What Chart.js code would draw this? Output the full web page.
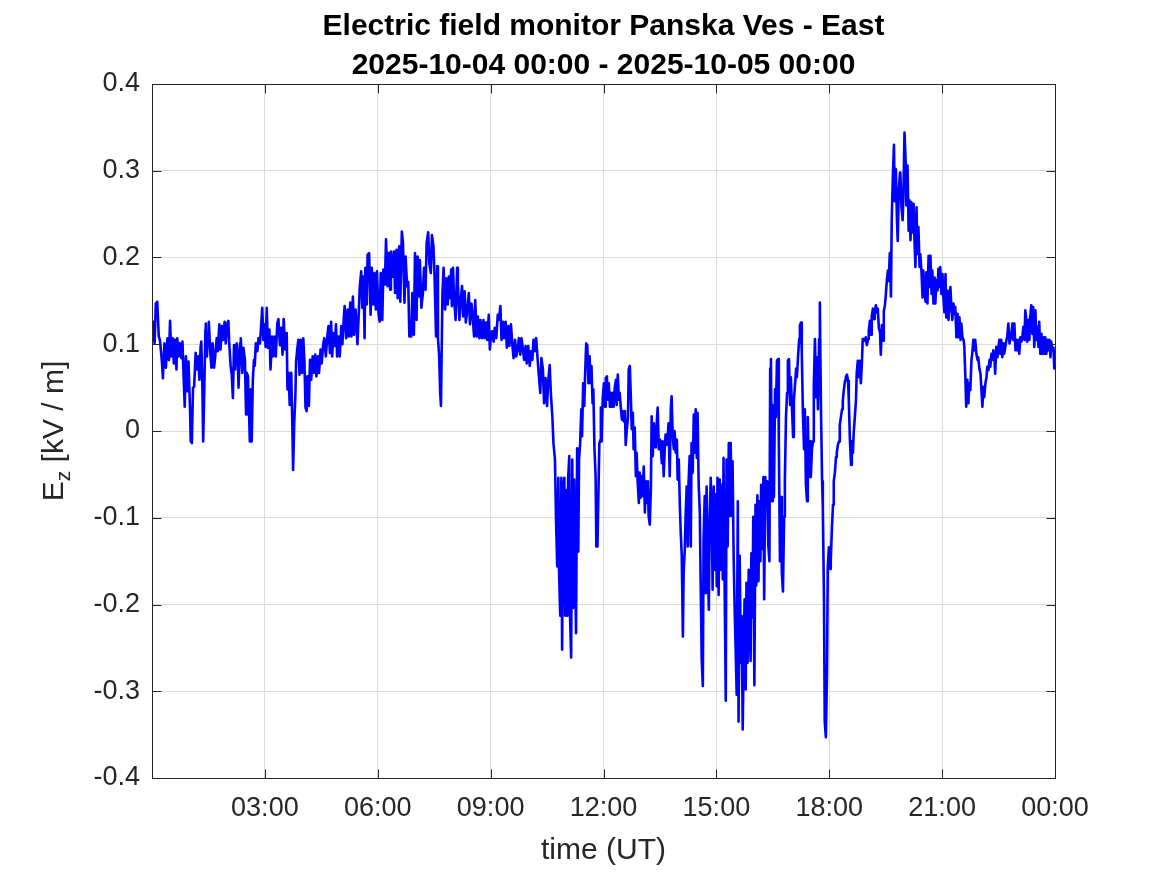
<!DOCTYPE html>
<html>
<head>
<meta charset="utf-8">
<title>Electric field monitor Panska Ves - East</title>
<script src="https://cdn.jsdelivr.net/npm/chart.js@4.4.0/dist/chart.umd.min.js"></script>
<style>
  body { margin: 0; background: #ffffff; }
  #grafico { display: block; }
</style>
</head>
<body>
<canvas id="grafico" width="1167" height="875"></canvas>
<script>
// Datos: hora (UT) y campo Ez (kV/m), por tramos de ~4 h.
const horasA = [0.00,0.01,0.04,0.07,0.10,0.14,0.18,0.21,0.26,0.29,
  0.33,0.37,0.41,0.45,0.48,0.51,0.55,0.58,0.61,0.65,
  0.67,0.71,0.74,0.78,0.81,0.84,0.87,0.90,0.94,0.97,
  1.01,1.03,1.06,1.09,1.12,1.16,1.19,1.23,1.26,1.29,
  1.31,1.34,1.36,1.39,1.42,1.43,1.46,1.49,1.51,1.55,
  1.58,1.61,1.65,1.68,1.72,1.75,1.79,1.82,1.86,1.89,
  1.93,1.96,2.00,2.03,2.05,2.09,2.12,2.15,2.18,2.21,
  2.25,2.28,2.30,2.34,2.36,2.40,2.43,2.47,2.50,2.52,
  2.55,2.58,2.60,2.63,2.65,2.68,2.71,2.73,2.76,2.80,
  2.83,2.87,2.90,2.93,2.96,2.99,3.02,3.05,3.08,3.12,
  3.15,3.19,3.22,3.26,3.29,3.33,3.36,3.40,3.43,3.47,
  3.50,3.54,3.58,3.60,3.63,3.66,3.70,3.73,3.75,3.78,
  3.81,3.83,3.86,3.89,3.92,3.95];
const campoA = [0.120,0.105,0.126,0.101,0.147,0.149,0.109,0.105,0.082,0.061,
  0.101,0.073,0.107,0.082,0.127,0.086,0.107,0.078,0.105,0.071,
  0.107,0.086,0.101,0.084,0.103,0.063,0.028,0.086,0.046,0.080,
  0.026,-0.012,-0.014,0.050,0.051,0.090,0.071,0.086,0.059,0.096,
  0.103,0.048,-0.012,0.048,0.117,0.124,0.086,0.113,0.126,0.090,
  0.073,0.101,0.073,0.086,0.107,0.092,0.123,0.094,0.121,0.105,
  0.126,0.101,0.124,0.127,0.103,0.075,0.065,0.038,0.099,0.071,
  0.101,0.086,0.050,0.101,0.107,0.067,0.096,0.082,0.019,0.067,
  0.063,0.021,-0.012,0.048,-0.012,0.059,0.082,0.075,0.101,0.092,
  0.107,0.101,0.121,0.142,0.105,0.123,0.097,0.142,0.096,0.117,
  0.071,0.109,0.086,0.109,0.086,0.124,0.129,0.099,0.119,0.088,
  0.129,0.094,0.113,0.048,0.067,0.030,0.067,0.007,-0.045,0.009,
  0.040,0.080,0.094,0.105,0.065,0.105];

const horasB = [3.96,3.99,4.02,4.05,4.08,4.11,4.13,4.17,4.20,4.23,
  4.27,4.30,4.34,4.37,4.41,4.44,4.48,4.51,4.55,4.58,
  4.62,4.66,4.69,4.73,4.76,4.79,4.82,4.86,4.89,4.92,
  4.96,4.99,5.03,5.06,5.10,5.12,5.16,5.20,5.23,5.27,
  5.30,5.34,5.37,5.41,5.43,5.46,5.50,5.52,5.56,5.59,
  5.62,5.65,5.67,5.71,5.73,5.77,5.81,5.84,5.88,5.91,
  5.95,5.98,6.02,6.05,6.08,6.12,6.15,6.19,6.22,6.26,
  6.29,6.33,6.35,6.39,6.43,6.46,6.50,6.53,6.57,6.60,
  6.64,6.67,6.71,6.74,6.78,6.81,6.84,6.89,6.92,6.96,
  6.99,7.03,7.06,7.10,7.12,7.16,7.20,7.23,7.27,7.30,
  7.34,7.37,7.41,7.44,7.48,7.51,7.55,7.58,7.60,7.63,
  7.66,7.68,7.72,7.75,7.79,7.82,7.86,7.89,7.93];
const campoB = [0.105,0.067,0.107,0.082,0.027,0.023,0.063,0.029,0.082,0.059,
  0.086,0.067,0.088,0.063,0.086,0.067,0.094,0.078,0.100,0.107,
  0.086,0.109,0.121,0.090,0.126,0.086,0.113,0.098,0.123,0.086,
  0.109,0.086,0.121,0.100,0.132,0.144,0.107,0.140,0.109,0.148,
  0.109,0.155,0.111,0.140,0.128,0.100,0.140,0.165,0.184,0.142,
  0.178,0.107,0.188,0.146,0.203,0.205,0.134,0.188,0.146,0.182,
  0.140,0.184,0.136,0.126,0.182,0.128,0.186,0.169,0.221,0.167,
  0.205,0.163,0.207,0.178,0.207,0.159,0.209,0.153,0.213,0.149,
  0.230,0.217,0.148,0.201,0.167,0.172,0.109,0.109,0.159,0.111,
  0.205,0.128,0.201,0.155,0.197,0.142,0.159,0.188,0.163,0.217,
  0.229,0.194,0.182,0.226,0.213,0.178,0.109,0.190,0.107,0.088,
  0.044,0.029,0.159,0.188,0.140,0.176,0.146,0.178,0.153];

const horasC = [7.95,7.97,8.00,8.03,8.07,8.11,8.13,8.17,8.20,8.24,
  8.27,8.31,8.34,8.38,8.42,8.45,8.49,8.52,8.56,8.59,
  8.63,8.66,8.70,8.73,8.77,8.81,8.84,8.88,8.91,8.95,
  8.98,9.01,9.04,9.08,9.11,9.15,9.19,9.22,9.26,9.29,
  9.33,9.36,9.40,9.43,9.47,9.50,9.54,9.58,9.61,9.65,
  9.68,9.72,9.75,9.79,9.82,9.86,9.89,9.93,9.96,10.00,
  10.04,10.07,10.11,10.14,10.18,10.21,10.25,10.28,10.32,10.35,
  10.39,10.42,10.46,10.50,10.53,10.57,10.60,10.64,10.67,10.71,
  10.74,10.77,10.80,10.82,10.85,10.88,10.90,10.93,10.96,10.98,
  11.01,11.04,11.06,11.09,11.11,11.14,11.17,11.19,11.22,11.25,
  11.27,11.30,11.33,11.35,11.38,11.41,11.43,11.46,11.49,11.51,
  11.54,11.57,11.60,11.63,11.66,11.68,11.71,11.73,11.76,11.79,
  11.81,11.84,11.87,11.89,11.92];
const campoC = [0.186,0.144,0.188,0.151,0.128,0.188,0.171,0.128,0.147,0.167,
  0.132,0.161,0.125,0.140,0.159,0.123,0.147,0.134,0.109,0.151,
  0.109,0.132,0.107,0.128,0.107,0.128,0.107,0.125,0.105,0.134,
  0.094,0.111,0.115,0.103,0.119,0.107,0.134,0.128,0.144,0.105,
  0.126,0.107,0.126,0.096,0.121,0.098,0.123,0.098,0.084,0.105,
  0.086,0.094,0.107,0.088,0.107,0.094,0.082,0.098,0.078,0.098,
  0.075,0.092,0.082,0.105,0.092,0.107,0.082,0.065,0.044,0.084,
  0.071,0.032,0.061,0.029,0.057,0.076,0.044,0.017,-0.014,-0.033,
  -0.106,-0.156,-0.054,-0.164,-0.213,-0.054,-0.252,-0.068,-0.054,-0.213,
  -0.068,-0.213,-0.056,-0.029,-0.213,-0.261,-0.033,-0.204,-0.056,-0.175,
  -0.233,-0.020,-0.139,-0.033,-0.014,0.025,-0.006,0.055,0.029,0.063,
  0.101,0.099,0.055,0.086,0.055,0.075,0.032,0.048,-0.021,-0.052,
  -0.133,-0.133,-0.060,-0.014,-0.010];

const horasD = [11.93,11.95,11.98,12.01,12.04,12.06,12.09,12.11,12.14,12.17,
  12.19,12.22,12.25,12.27,12.30,12.33,12.35,12.38,12.41,12.43,
  12.46,12.49,12.51,12.54,12.57,12.59,12.62,12.65,12.67,12.70,
  12.73,12.75,12.78,12.80,12.83,12.86,12.88,12.91,12.94,12.96,
  12.99,13.02,13.04,13.07,13.10,13.12,13.15,13.18,13.20,13.23,
  13.26,13.28,13.31,13.34,13.36,13.39,13.42,13.44,13.47,13.50,
  13.52,13.55,13.57,13.60,13.63,13.65,13.68,13.71,13.73,13.76,
  13.79,13.81,13.84,13.87,13.89,13.92,13.95,13.97,14.00,14.03,
  14.05,14.08,14.11,14.13,14.16,14.18,14.21,14.24,14.26,14.29,
  14.32,14.34,14.37,14.40,14.42,14.45,14.48,14.50,14.53,14.56,
  14.58,14.61,14.64,14.66,14.69,14.72,14.74,14.77,14.80,14.82,
  14.85,14.88,14.90,14.93,14.96,14.98,15.01,15.03,15.06,15.09,
  15.11,15.14,15.17,15.19,15.22,15.25,15.27,15.30,15.33,15.35,
  15.38,15.41,15.43,15.46,15.49,15.51,15.54,15.57,15.59,15.62,
  15.65,15.67,15.70,15.73,15.75,15.78,15.80,15.83,15.86,15.88];
const campoD = [0.027,-0.012,0.038,0.055,0.028,0.061,0.063,0.036,0.055,0.028,
  0.044,0.028,0.044,0.028,0.050,0.059,0.030,0.065,0.036,0.044,
  0.027,0.013,0.023,0.011,0.023,-0.016,0.002,0.015,0.071,0.075,
  0.034,0.002,0.021,-0.021,0.004,-0.052,-0.025,-0.060,-0.083,-0.048,
  -0.077,-0.052,-0.075,-0.041,-0.094,-0.058,-0.083,-0.058,-0.098,-0.108,
  -0.065,0.017,-0.029,0.009,-0.012,-0.019,0.013,0.027,-0.021,-0.010,
  -0.016,-0.037,-0.012,-0.052,-0.018,-0.004,-0.016,-0.004,0.009,-0.052,
  0.027,0.040,-0.006,-0.021,0.000,-0.025,-0.010,-0.056,-0.033,-0.087,
  -0.114,-0.144,-0.237,-0.163,-0.137,-0.102,-0.064,-0.133,-0.060,-0.029,
  -0.133,-0.014,-0.048,0.019,-0.025,0.025,-0.031,0.021,-0.062,-0.094,
  -0.167,-0.263,-0.294,-0.125,-0.075,-0.187,-0.064,-0.152,-0.206,-0.106,
  -0.054,-0.110,-0.183,-0.064,-0.160,-0.073,-0.179,-0.054,-0.189,-0.056,
  -0.160,-0.062,-0.171,-0.031,-0.183,-0.311,-0.033,-0.133,-0.014,-0.098,
  -0.014,-0.098,-0.035,-0.148,-0.213,-0.248,-0.304,-0.081,-0.335,-0.144,
  -0.267,-0.213,-0.344,-0.244,-0.194,-0.298,-0.175,-0.267,-0.160,-0.217];

const horasE = [15.91,15.93,15.96,15.98,16.01,16.04,16.06,16.09,16.12,16.14,
  16.17,16.19,16.22,16.25,16.27,16.30,16.33,16.35,16.38,16.41,
  16.43,16.45,16.48,16.50,16.53,16.56,16.58,16.61,16.64,16.66,
  16.69,16.72,16.74,16.77,16.80,16.82,16.85,16.88,16.90,16.93,
  16.96,16.98,17.01,17.04,17.06,17.09,17.12,17.14,17.17,17.20,
  17.22,17.25,17.27,17.30,17.33,17.35,17.38,17.41,17.43,17.46,
  17.49,17.51,17.54,17.57,17.59,17.62,17.65,17.67,17.70,17.73,
  17.75,17.78,17.81,17.83,17.86,17.88,17.91,17.94,17.96,17.99,
  18.02,18.04,18.07,18.10,18.12,18.15,18.18,18.20,18.23,18.26,
  18.28,18.31,18.34,18.36,18.39,18.42,18.44,18.47,18.50,18.52,
  18.55,18.58,18.60,18.63,18.65,18.68,18.71,18.73,18.76,18.79,
  18.81,18.84,18.87,18.89,18.92,18.95,18.97,19.00,19.03,19.05,
  19.08,19.11,19.13,19.16,19.19,19.21,19.24,19.27,19.29,19.32,
  19.35,19.37,19.40,19.43,19.45,19.48,19.50,19.53,19.56,19.58,
  19.61,19.64,19.66,19.69,19.72,19.74,19.77,19.80,19.82,19.85,
  19.88];
const campoE = [-0.265,-0.141,-0.215,-0.099,-0.293,-0.085,-0.178,-0.074,-0.173,-0.081,
  -0.150,-0.062,-0.136,-0.053,-0.194,-0.053,-0.085,-0.058,-0.132,-0.150,
  0.072,0.083,-0.081,0.030,-0.076,0.048,0.016,0.081,0.083,-0.012,
  -0.150,-0.076,-0.164,-0.185,-0.099,-0.058,0.016,0.044,0.081,0.083,
  0.030,0.062,0.025,-0.007,0.035,0.053,0.072,0.062,0.085,0.106,
  0.122,0.125,0.090,0.021,-0.021,0.025,-0.062,-0.081,0.016,-0.053,
  -0.012,-0.053,-0.021,-0.012,0.053,0.106,0.039,0.085,0.025,0.106,
  0.148,0.025,-0.058,-0.090,-0.194,-0.335,-0.353,-0.279,-0.159,-0.134,
  -0.159,-0.150,-0.113,-0.085,-0.058,-0.048,-0.030,-0.025,-0.016,-0.012,
  0.007,0.016,0.025,0.035,0.048,0.058,0.062,0.065,0.058,0.035,
  -0.012,-0.039,-0.012,-0.025,-0.002,0.016,0.035,0.067,0.081,0.062,
  0.081,0.055,0.081,0.106,0.106,0.104,0.108,0.099,0.106,0.115,
  0.127,0.111,0.132,0.141,0.129,0.138,0.145,0.136,0.141,0.118,
  0.113,0.088,0.122,0.104,0.138,0.145,0.155,0.173,0.185,0.173,
  0.205,0.155,0.242,0.293,0.330,0.265,0.302,0.242,0.219,0.279,
  0.298];

const horasF = [19.89,19.92,19.95,19.97,20.00,20.03,20.05,20.08,20.11,20.13,
  20.16,20.18,20.21,20.24,20.26,20.29,20.32,20.34,20.37,20.40,
  20.42,20.45,20.48,20.50,20.53,20.56,20.58,20.61,20.64,20.66,
  20.69,20.72,20.74,20.77,20.80,20.82,20.85,20.88,20.90,20.93,
  20.95,20.98,21.01,21.03,21.06,21.09,21.11,21.14,21.17,21.19,
  21.22,21.25,21.27,21.30,21.33,21.35,21.38,21.41,21.43,21.46,
  21.49,21.51,21.54,21.57,21.59,21.62,21.64,21.67,21.70,21.72,
  21.75,21.78,21.80,21.83,21.86,21.88,21.91,21.94,21.96,21.99,
  22.02,22.04,22.07,22.10,22.12,22.15,22.18,22.20,22.23,22.26,
  22.28,22.31,22.34,22.36,22.39,22.41,22.44,22.47,22.49,22.52,
  22.55,22.57,22.60,22.63,22.65,22.68,22.71,22.73,22.76,22.79,
  22.81,22.84,22.87,22.89,22.92,22.95,22.97,23.00,23.03,23.05,
  23.08,23.11,23.13,23.16,23.19,23.21,23.24,23.26,23.29,23.32,
  23.34,23.37,23.40,23.42,23.45,23.48,23.50,23.53,23.56,23.58,
  23.61,23.64,23.66,23.69,23.72,23.74,23.77,23.80,23.82,23.85,
  23.88,23.90,23.93,23.96,23.98,24.00];
const campoF = [0.298,0.258,0.243,0.269,0.344,0.311,0.260,0.306,0.231,0.266,
  0.220,0.264,0.229,0.262,0.227,0.189,0.258,0.204,0.235,0.189,
  0.204,0.185,0.154,0.185,0.162,0.149,0.183,0.147,0.202,0.166,
  0.202,0.158,0.185,0.147,0.177,0.147,0.174,0.162,0.187,0.166,
  0.189,0.158,0.181,0.156,0.137,0.181,0.131,0.162,0.128,0.151,
  0.166,0.139,0.128,0.147,0.135,0.143,0.108,0.135,0.108,0.131,
  0.105,0.124,0.108,0.105,0.097,0.059,0.028,0.059,0.032,0.055,
  0.047,0.082,0.089,0.105,0.093,0.105,0.089,0.082,0.085,0.072,
  0.066,0.051,0.028,0.051,0.039,0.055,0.062,0.074,0.070,0.082,
  0.074,0.089,0.082,0.093,0.084,0.066,0.097,0.085,0.093,0.105,
  0.089,0.105,0.085,0.101,0.089,0.097,0.105,0.108,0.124,0.101,
  0.105,0.112,0.124,0.105,0.124,0.093,0.105,0.093,0.105,0.089,
  0.108,0.103,0.108,0.120,0.105,0.139,0.128,0.103,0.128,0.105,
  0.131,0.145,0.112,0.143,0.097,0.139,0.105,0.120,0.097,0.126,
  0.089,0.112,0.089,0.108,0.089,0.108,0.089,0.105,0.093,0.105,
  0.085,0.103,0.093,0.096,0.072,0.093];

// Ejes y textos
const ticksHoras = [3, 6, 9, 12, 15, 18, 21, 24];
const etiquetasHoras = ['03:00', '06:00', '09:00', '12:00', '15:00', '18:00', '21:00', '00:00'];
const ticksCampo = [-0.4, -0.3, -0.2, -0.1, 0, 0.1, 0.2, 0.3, 0.4];
const etiquetasCampo = ['-0.4', '-0.3', '-0.2', '-0.1', '0', '0.1', '0.2', '0.3', '0.4'];
const titulo = ['Electric field monitor Panska Ves - East', '2025-10-04 00:00 - 2025-10-05 00:00'];
const tituloX = 'time (UT)';

const FUENTE = '"Liberation Sans", Arial, Helvetica, sans-serif';

// Junta los tramos en una sola serie de puntos {x, y}
function armarSerie(){
    const tramosHoras = [horasA, horasB, horasC, horasD, horasE, horasF];
    const tramosCampo = [campoA, campoB, campoC, campoD, campoE, campoF];
    let puntos = [];
    for (let i = 0; i < tramosHoras.length; i++) {
        if (tramosHoras[i].length !== tramosCampo[i].length) {
            throw new Error('Tramo ' + i + ': ' + tramosHoras[i].length + ' horas vs ' + tramosCampo[i].length + ' valores');
        }
        for (let j = 0; j < tramosHoras[i].length; j++) {
            puntos.push({ x: tramosHoras[i][j], y: tramosCampo[i][j] });
        }
    }
    return puntos;
}

// Caja, marcas hacia dentro, titulo y etiquetas al estilo MATLAB
const decoracion = {
    id: 'decoracion',
    afterDraw(chart){
        const ctx = chart.ctx;
        const area = chart.chartArea;
        const ex = chart.scales.x;
        const ey = chart.scales.y;
        const largo = 9;

        ctx.save();
        ctx.strokeStyle = '#262626';
        ctx.lineWidth = 1;
        const izq = Math.round(area.left) + 0.5;
        const der = Math.round(area.right) + 0.5;
        const arr = Math.round(area.top) + 0.5;
        const aba = Math.round(area.bottom) + 0.5;
        ctx.strokeRect(izq, arr, der - izq, aba - arr);

        ctx.beginPath();
        ticksCampo.forEach(v => {
            const y = Math.round(ey.getPixelForValue(v)) + 0.5;
            ctx.moveTo(izq, y); ctx.lineTo(izq + largo, y);
            ctx.moveTo(der, y); ctx.lineTo(der - largo, y);
        });
        ticksHoras.forEach(v => {
            const x = Math.round(ex.getPixelForValue(v)) + 0.5;
            ctx.moveTo(x, aba); ctx.lineTo(x, aba - largo);
            ctx.moveTo(x, arr); ctx.lineTo(x, arr + largo);
        });
        ctx.stroke();

        const centroX = (area.left + area.right) / 2;
        ctx.textAlign = 'center';
        ctx.textBaseline = 'alphabetic';
        ctx.fillStyle = '#000000';
        ctx.font = 'bold 30px ' + FUENTE;
        ctx.fillText(titulo[0], centroX, 35);
        ctx.fillText(titulo[1], centroX, 74);

        ctx.fillStyle = '#262626';
        ctx.font = '30px ' + FUENTE;
        ctx.fillText(tituloX, centroX, 859);

        // Etiqueta vertical E_z [kV / m]
        ctx.translate(63, (area.top + area.bottom) / 2);
        ctx.rotate(-Math.PI / 2);
        ctx.textAlign = 'left';
        const grande = '30px ' + FUENTE;
        const chica = '21px ' + FUENTE;
        ctx.font = grande;
        const anchoE = ctx.measureText('E').width;
        const resto = ' [kV / m]';
        const anchoResto = ctx.measureText(resto).width;
        ctx.font = chica;
        const anchoZ = ctx.measureText('z').width;
        let u = -(anchoE + anchoZ + anchoResto) / 2;
        ctx.font = grande;
        ctx.fillText('E', u, 0);
        u += anchoE;
        ctx.font = chica;
        ctx.fillText('z', u, 7);
        u += anchoZ;
        ctx.font = grande;
        ctx.fillText(resto, u, 0);
        ctx.restore();
    }
};

function dibujarGrafico(){
    const ctx = document.getElementById('grafico').getContext('2d');

    window.miGrafica = new Chart(ctx, {
        type: 'line',
        data: {
            datasets: [{
                label: 'Ez',
                data: armarSerie(),
                borderColor: '#0000ff',
                borderWidth: 2.6,
                borderJoinStyle: 'round',
                pointRadius: 0,
                tension: 0,
                fill: false
            }]
        },
        options: {
            responsive: false,
            animation: false,
            devicePixelRatio: 1,
            layout: { padding: { left: 0, right: 112, top: 84, bottom: 0 } },
            plugins: {
                legend: { display: false },
                tooltip: { enabled: false },
                title: { display: false }
            },
            scales: {
                x: {
                    type: 'linear',
                    min: 0,
                    max: 24,
                    afterBuildTicks: s => { s.ticks = ticksHoras.map(v => ({ value: v })); },
                    afterFit: s => { s.height = 97; },
                    grid: { color: '#dcdcdc', drawTicks: false },
                    border: { display: false },
                    ticks: {
                        padding: 14,
                        maxRotation: 0,
                        autoSkip: false,
                        color: '#262626',
                        font: { family: FUENTE, size: 27 },
                        callback: (valor, i) => etiquetasHoras[i]
                    }
                },
                y: {
                    type: 'linear',
                    min: -0.4,
                    max: 0.4,
                    afterBuildTicks: s => { s.ticks = ticksCampo.map(v => ({ value: v })); },
                    afterFit: s => { s.width = 152; },
                    grid: { color: '#dcdcdc', drawTicks: false },
                    border: { display: false },
                    ticks: {
                        padding: 12,
                        autoSkip: false,
                        color: '#262626',
                        font: { family: FUENTE, size: 27 },
                        callback: (valor, i) => etiquetasCampo[i]
                    }
                }
            }
        },
        plugins: [decoracion]
    });
}

dibujarGrafico();
</script>
</body>
</html>
